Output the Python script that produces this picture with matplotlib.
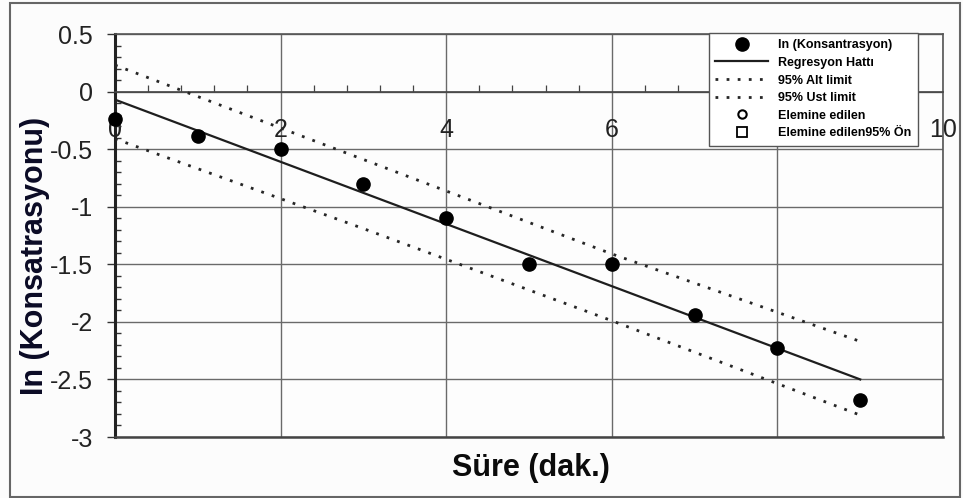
import matplotlib
matplotlib.use('Agg')
import matplotlib.pyplot as plt
from matplotlib.lines import Line2D
from matplotlib.patches import Rectangle
from matplotlib.ticker import MultipleLocator

# ---- data ----
time_min = [0, 1, 2, 3, 4, 5, 6, 7, 8, 9]
ln_conc = [-0.24, -0.39, -0.50, -0.80, -1.10, -1.50, -1.50, -1.94, -2.23, -2.68]
reg_x = [0, 9]
reg_y = [-0.07, -2.50]
band_x = [0, 3, 6, 9]
lower_y = [-0.41, -1.19, -1.99, -2.81]
upper_y = [0.23, -0.59, -1.41, -2.17]
x_ticks = [0, 2, 4, 6, 8, 10]
x_tick_labels = ['0', '2', '4', '6', '8', '10']
y_ticks = [0.5, 0, -0.5, -1, -1.5, -2, -2.5, -3]
y_tick_labels = ['0.5', '0', '-0.5', '-1', '-1.5', '-2', '-2.5', '-3']
legend_labels = ['In (Konsantrasyon)', 'Regresyon Hattı', '95% Alt limit',
                 '95% Ust limit', 'Elemine edilen', 'Elemine edilen95% Ön']
x_label = 'Süre (dak.)'
y_label = 'In (Konsatrasyonu)'

plt.rcParams['font.family'] = ['Liberation Sans', 'DejaVu Sans']

W, H = 963, 498
fig = plt.figure(figsize=(W / 100, H / 100), dpi=100, facecolor='#fcfcfc')
ax = fig.add_axes([115 / W, 1 - 437 / H, (943 - 115) / W, (437 - 34) / H])
ax.set_facecolor('#fdfdfd')

ax.set_xlim(0, 10)
ax.set_ylim(-3, 0.5)

dotted = (0, (1.0, 3.0))
pts, = ax.plot(time_min, ln_conc, 'o', color='black', ms=9.5, zorder=5, clip_on=False)
reg, = ax.plot(reg_x, reg_y, '-', color='#1e1e1e', lw=1.6, zorder=4)
low, = ax.plot(band_x, lower_y, linestyle=dotted, color='#262626', lw=2.0, zorder=4)
up, = ax.plot(band_x, upper_y, linestyle=dotted, color='#262626', lw=2.0, zorder=4)
elim = Line2D([], [], marker='o', ls='none', mfc='none', mec='black', ms=6, mew=1.5)
elim_sq = Line2D([], [], marker='s', ls='none', mfc='none', mec='black', ms=6.5, mew=1.3)

# axes / spines
ax.spines['bottom'].set_position(('data', 0))
ax.spines['bottom'].set_color('#444444')
ax.spines['bottom'].set_linewidth(1.2)
ax.spines['left'].set_color('#222222')
ax.spines['left'].set_linewidth(2.2)
for s in ['top', 'right']:
    ax.spines[s].set_color('#555555')
    ax.spines[s].set_linewidth(1.2)
ax.axhline(-3, color='#444444', lw=1.8, clip_on=False, zorder=3)

ax.set_xticks(x_ticks)
ax.set_xticklabels(x_tick_labels)
ax.set_yticks(y_ticks)
ax.set_yticklabels(y_tick_labels)
ax.xaxis.set_minor_locator(MultipleLocator(0.4))
ax.yaxis.set_minor_locator(MultipleLocator(0.1))

ax.tick_params(axis='y', which='major', direction='out', length=6, width=1,
               pad=10, labelsize=18, color='#333333', labelcolor='#222222')
ax.tick_params(axis='y', which='minor', direction='in', length=4.5, width=1.0,
               color='#333333')
ax.tick_params(axis='x', which='major', length=0, pad=19, labelsize=18,
               labelcolor='#222222')
ax.tick_params(axis='x', which='minor', direction='in', length=5, width=0.9,
               color='#444444')

ax.grid(True, which='major', color='#6a6a6a', lw=1.0)
ax.set_axisbelow(True)

# axis titles
fig.text(35 / W, 1 - 256 / H, y_label, rotation=90, ha='center', va='center',
         fontsize=22, fontweight='bold', color='#0b0b25')
fig.text(531 / W, 1 - 468 / H, x_label, ha='center', va='center',
         fontsize=22, fontweight='bold', color='#0b0b0b')

# legend
leg = ax.legend([pts, reg, low, up, elim, elim_sq], legend_labels,
                loc='upper left', bbox_to_anchor=(709 / W, 1 - 33 / H),
                bbox_transform=fig.transFigure, borderaxespad=0,
                prop={'family': 'Liberation Sans', 'weight': 'bold', 'size': 9},
                frameon=True, fancybox=False, framealpha=1, edgecolor='#555555',
                borderpad=0.5, labelspacing=0.45, handlelength=4.2,
                handletextpad=0.85, numpoints=1)
leg.get_frame().set_linewidth(1.0)
leg.set_zorder(10)

# outer frame
fig.add_artist(Rectangle((10 / W, 1 / H), (960 - 10) / W, (495 - 1) / H,
                         transform=fig.transFigure, fill=False,
                         edgecolor='#666666', lw=1.5))

fig.savefig('out.png', dpi=100, facecolor=fig.get_facecolor())
